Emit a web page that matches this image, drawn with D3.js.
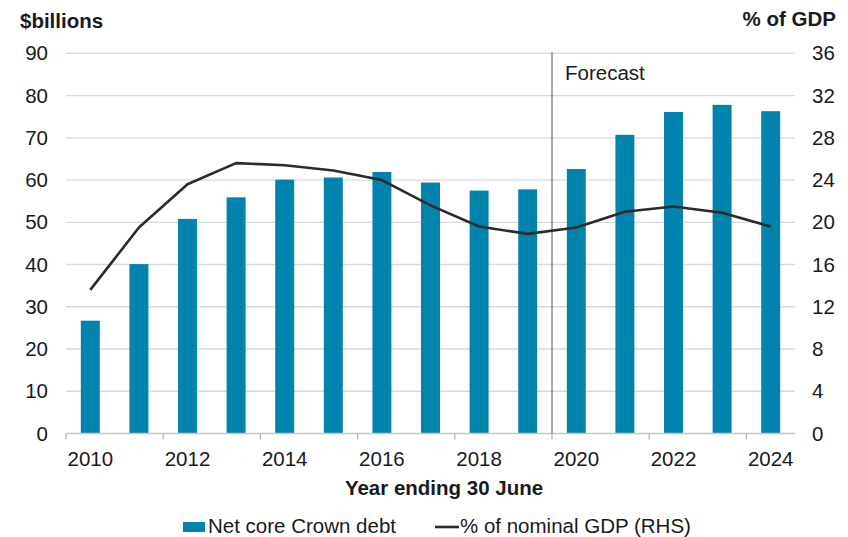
<!DOCTYPE html>
<html><head><meta charset="utf-8">
<script src="https://cdn.jsdelivr.net/npm/d3@7"></script>
<style>body{margin:0;background:#fff}svg{display:block}text{font-family:"Liberation Sans",Arial,sans-serif;fill:#1a1a1a}</style>
</head><body><svg id="c" width="848" height="537"></svg>
<script>
const years = ["2010","2011","2012","2013","2014","2015","2016","2017","2018","2019","2020","2021","2022","2023","2024"];
const debt = [26.7,40.1,50.8,55.9,60.1,60.6,61.9,59.4,57.5,57.8,62.6,70.7,76.1,77.8,76.3];
const pctGDP = [13.6,19.5,23.6,25.6,25.4,24.9,24.0,21.6,19.6,18.9,19.5,21.0,21.5,20.9,19.6];
const leftTicks = [0,10,20,30,40,50,60,70,80,90];
const rightTicks = [0,4,8,12,16,20,24,28,32,36];
const xLabels = ["2010","2012","2014","2016","2018","2020","2022","2024"];
const forecastStart = "2020";

const FS = 20.5;
const svg = d3.select("#c");
const L=66, R=795, T=53.3, B=433.5;
const x = d3.scaleBand().domain(years).range([L,R]).paddingInner(0).paddingOuter(0);
const yL = d3.scaleLinear().domain([0,90]).range([B,T]);
const yR = d3.scaleLinear().domain([0,36]).range([B,T]);
const barW = x.bandwidth()*0.39;

// gridlines
svg.append("g").selectAll("line").data(leftTicks.filter(d=>d>0)).join("line")
 .attr("x1",L).attr("x2",R).attr("y1",d=>yL(d)).attr("y2",d=>yL(d))
 .attr("stroke","#d9d9d9").attr("stroke-width",1.3);

// bars
svg.append("g").selectAll("rect").data(debt).join("rect")
 .attr("x",(d,i)=>x(years[i])+x.bandwidth()/2-barW/2)
 .attr("width",barW).attr("y",d=>yL(d)).attr("height",d=>B-yL(d))
 .attr("fill","#0083ad");

// x axis line + ticks
svg.append("line").attr("x1",L).attr("x2",R).attr("y1",B).attr("y2",B).attr("stroke","#c8c8c8").attr("stroke-width",1.3);
const tickPos = years.filter((d,i)=>i%2===0).map(d=>x(d));
svg.append("g").selectAll("line").data(tickPos).join("line")
 .attr("x1",d=>d).attr("x2",d=>d).attr("y1",B).attr("y2",B+6).attr("stroke","#b0b0b0").attr("stroke-width",1.2);

// forecast line
const fx = x(forecastStart);
svg.append("line").attr("x1",fx).attr("x2",fx).attr("y1",T-1).attr("y2",B).attr("stroke","#555").attr("stroke-width",1);
svg.append("text").attr("x",fx+13).attr("y",80).attr("font-size",FS).attr("fill","#333").text("Forecast");

// line
const line = d3.line().x((d,i)=>x(years[i])+x.bandwidth()/2).y(d=>yR(d));
svg.append("path").datum(pctGDP).attr("d",line).attr("fill","none").attr("stroke","#2b2b2b").attr("stroke-width",2.6).attr("stroke-linejoin","round");

// left axis labels
svg.append("g").selectAll("text").data(leftTicks).join("text")
 .attr("x",48).attr("y",d=>yL(d)).attr("dy","0.35em").attr("text-anchor","end").attr("font-size",FS).text(d=>d);
// right axis labels
svg.append("g").selectAll("text").data(rightTicks).join("text")
 .attr("x",812).attr("y",d=>yR(d)).attr("dy","0.35em").attr("text-anchor","start").attr("font-size",FS).text(d=>d);
// x labels
svg.append("g").selectAll("text").data(xLabels).join("text")
 .attr("x",d=>x(d)+x.bandwidth()/2).attr("y",466).attr("text-anchor","middle").attr("font-size",FS).text(d=>d);

// titles
svg.append("text").attr("x",20).attr("y",28).attr("font-size",FS).attr("font-weight","bold").text("$billions");
svg.append("text").attr("x",836).attr("y",26).attr("text-anchor","end").attr("font-size",FS).attr("font-weight","bold").text("% of GDP");
svg.append("text").attr("x",444).attr("y",495).attr("text-anchor","middle").attr("font-size",FS).attr("font-weight","bold").text("Year ending 30 June");

// legend
svg.append("rect").attr("x",183).attr("y",522).attr("width",22).attr("height",10).attr("fill","#0083ad");
svg.append("text").attr("x",208).attr("y",533).attr("font-size",FS).text("Net core Crown debt");
svg.append("line").attr("x1",435).attr("x2",459).attr("y1",527).attr("y2",527).attr("stroke","#2b2b2b").attr("stroke-width",2.6);
svg.append("text").attr("x",460).attr("y",533).attr("font-size",FS).text("% of nominal GDP (RHS)");
</script></body></html>
